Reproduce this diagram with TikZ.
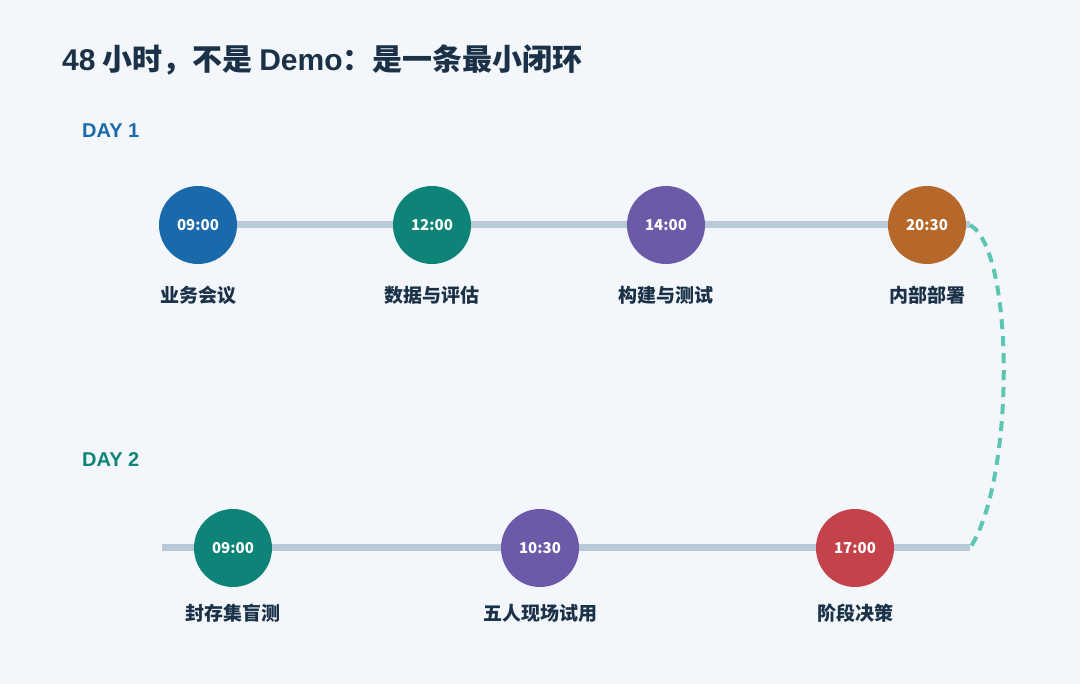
\documentclass[tikz,border=0pt]{standalone}
\usepackage{fontspec}
\setmainfont{Noto Sans CJK SC}
\newfontfamily\latinf{Liberation Sans}
\begin{document}
\begin{tikzpicture}[x=1pt,y=-1pt,
 dot/.style={circle,minimum size=78pt,inner sep=0pt,text=white,font=\bfseries\fontsize{15}{15}\selectfont},
 lab/.style={text=ink,font=\bfseries\fontsize{19}{19}\selectfont},
 track/.style={draw=trk,line width=7pt}]
\definecolor{bg}{HTML}{F3F7FB}\definecolor{ink}{HTML}{1B3147}
\definecolor{trk}{HTML}{B8CAD8}\definecolor{cb}{HTML}{1A6AAB}
\definecolor{ct}{HTML}{0E8377}\definecolor{cp}{HTML}{6B5AA8}
\definecolor{co}{HTML}{B5682A}\definecolor{cr}{HTML}{C4434A}
\definecolor{dashc}{HTML}{5CC6B3}
\fill[bg] (0,0) rectangle (1080,684);
\useasboundingbox (0,0) rectangle (1080,684);
\node[anchor=west,inner sep=0pt,text=ink,font=\bfseries\fontsize{30}{30}\selectfont] (t) at (62,60) {{\latinf 48} 小时，不是 {\latinf Demo}：是一条最小闭环};
\node[anchor=west,inner sep=0pt,text=cb,font=\latinf\bfseries\fontsize{20}{20}\selectfont] (d1) at (82,131) {DAY 1};
\node[anchor=west,inner sep=0pt,text=ct,font=\latinf\bfseries\fontsize{20}{20}\selectfont] (d2) at (82,460) {DAY 2};
\coordinate (s1) at (198,225); \coordinate (e1) at (970,225);
\coordinate (s2) at (162,548); \coordinate (e2) at (970,548);
\draw[track] (s1) -- (e1);
\draw[track] (s2) -- (e2);
\draw[dashc,line width=4pt,dash pattern=on 10pt off 7pt] (e1) .. controls (1015,250) and (1015,480) .. (e2);
\node[dot,fill=cb] (a) at (198,225) {09:00};
\node[dot,fill=ct] (b) at (432,225) {12:00};
\node[dot,fill=cp] (c) at (666,225) {14:00};
\node[dot,fill=co] (d) at (927,225) {20:30};
\node[dot,fill=ct] (e) at (233,548) {09:00};
\node[dot,fill=cp] (f) at (540,548) {10:30};
\node[dot,fill=cr] (g) at (855,548) {17:00};
\node[lab] (la) at (198,295) {业务会议};
\node[lab] (lb) at (432,295) {数据与评估};
\node[lab] (lc) at (666,295) {构建与测试};
\node[lab] (ld) at (927,295) {内部部署};
\node[lab] (le) at (233,613) {封存集盲测};
\node[lab] (lf) at (540,613) {五人现场试用};
\node[lab] (lg) at (855,613) {阶段决策};
\end{tikzpicture}
\end{document}
